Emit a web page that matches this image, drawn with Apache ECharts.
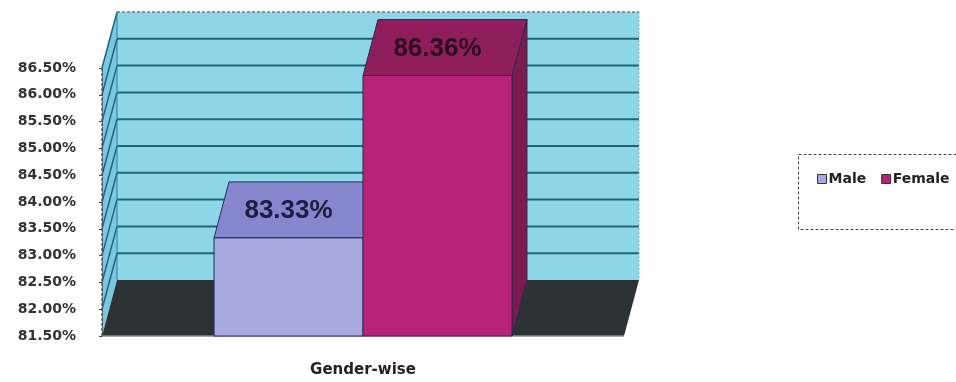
<!DOCTYPE html>
<html>
<head>
<meta charset="utf-8">
<script src="https://cdn.jsdelivr.net/npm/echarts@6/dist/echarts.min.js"></script>
<style>html,body{margin:0;padding:0;background:#fff}#c{width:956px;height:382px}</style>
</head>
<body>
<div id="c"></div>
<script>
// ---- data ----
const categories = ['Gender-wise'];
const seriesNames = ['Male', 'Female'];
const maleValues = [83.33];
const femaleValues = [86.36];
const yTicks = [81.5, 82.0, 82.5, 83.0, 83.5, 84.0, 84.5, 85.0, 85.5, 86.0, 86.5];

// ---- styles ----
const DX = 15, DY = -56;          // 3D depth offset (pixels)
const BAR_RATIO = 0.2854;         // bar width / band width
const WALL = '#8dd6e8', LEFTWALL = '#79c8df', GRID = '#23627a', FLOOR = '#2d3335';
const EDGE = '#2a2a50';
const barStyles = [
  { front: '#a9a9e1', top: '#8686cf', side: '#7474b8', text: '#1e1c40' },
  { front: '#b8237a', top: '#8e1f5c', side: '#7d1a50', text: '#2a0c1e' }
];
const yMin = yTicks[0], yMax = yTicks[yTicks.length - 1], yStep = 0.5;

const chart = echarts.init(document.getElementById('c'), null, { renderer: 'canvas' });

function renderFrame(params, api) {
  const cs = params.coordSys;
  const x0 = cs.x, x1 = cs.x + cs.width;
  const yB = api.coord([0, yMin])[1], yT = api.coord([0, yMax])[1];
  const ch = [];
  ch.push({ type: 'polygon', shape: { points: [[x0 + DX, yT + DY], [x1 + DX, yT + DY], [x1 + DX, yB + DY], [x0 + DX, yB + DY]] }, style: { fill: WALL } });
  ch.push({ type: 'polygon', shape: { points: [[x0, yB], [x0 + DX, yB + DY], [x0 + DX, yT + DY], [x0, yT]] }, style: { fill: LEFTWALL } });
  yTicks.forEach(function (v) {
    const y = api.coord([0, v])[1];
    if (v === yMin) return;
    if (v === yMax) {
      ch.push({ type: 'line', shape: { x1: x0 + DX, y1: y + DY, x2: x1 + DX, y2: y + DY }, style: { stroke: '#777', lineWidth: 1.5, lineDash: [3, 2] } });
      ch.push({ type: 'line', shape: { x1: x0, y1: y, x2: x0 + DX, y2: y + DY }, style: { stroke: GRID, lineWidth: 1.5 } });
      return;
    }
    ch.push({ type: 'line', shape: { x1: x0 + DX, y1: y + DY, x2: x1 + DX, y2: y + DY }, style: { stroke: GRID, lineWidth: 2 } });
    ch.push({ type: 'line', shape: { x1: x0, y1: y, x2: x0 + DX, y2: y + DY }, style: { stroke: GRID, lineWidth: 1.5 } });
  });
  ch.push({ type: 'line', shape: { x1: x0 + DX, y1: yT + DY, x2: x0 + DX, y2: yB + DY }, style: { stroke: '#2f7f98', lineWidth: 1 } });
  ch.push({ type: 'line', shape: { x1: x1 + DX, y1: yT + DY, x2: x1 + DX, y2: yB + DY }, style: { stroke: '#9aa', lineWidth: 1, lineDash: [2, 2] } });
  ch.push({ type: 'line', shape: { x1: x0, y1: yT, x2: x0, y2: yB }, style: { stroke: '#3a6f80', lineWidth: 1.5, lineDash: [3, 2] } });
  ch.push({ type: 'polygon', shape: { points: [[x0, yB], [x1, yB], [x1 + DX, yB + DY], [x0 + DX, yB + DY]] }, style: { fill: FLOOR } });
  ch.push({ type: 'line', shape: { x1: x0, y1: yB, x2: x1, y2: yB }, style: { stroke: '#8a8a9a', lineWidth: 1.5 } });
  return { type: 'group', children: ch };
}

function makeBarRender(idx) {
  const st = barStyles[idx];
  return function (params, api) {
    const cat = api.value(0), val = api.value(1);
    const base = api.coord([cat, yMin]);
    const tp = api.coord([cat, val]);
    const band = api.size([1, 0])[0];
    const bw = band * BAR_RATIO;
    const xl = base[0] + (idx === 0 ? -bw : 0);
    const xr = xl + bw;
    const yb = base[1], yt = tp[1];
    const ch = [];
    ch.push({ type: 'polygon', shape: { points: [[xr, yt], [xr + DX, yt + DY], [xr + DX, yb + DY], [xr, yb]] }, style: { fill: st.side, stroke: EDGE, lineWidth: 1 } });
    ch.push({ type: 'polygon', shape: { points: [[xl, yt], [xr, yt], [xr + DX, yt + DY], [xl + DX, yt + DY]] }, style: { fill: st.top, stroke: EDGE, lineWidth: 1 } });
    ch.push({ type: 'rect', shape: { x: xl, y: yt, width: bw, height: yb - yt }, style: { fill: st.front, stroke: EDGE, lineWidth: 1 } });
    ch.push({ type: 'text', x: (xl + xr) / 2, y: yt + DY / 2 + 1, style: { text: val.toFixed(2) + '%', fill: st.text, font: 'bold 26px "Liberation Sans", Arial, sans-serif', align: 'center', verticalAlign: 'middle' } });
    return { type: 'group', children: ch };
  };
}

chart.setOption({
  backgroundColor: '#fff',
  animation: false,
  grid: { left: 102, right: 332, top: 68, bottom: 46, containLabel: false },
  xAxis: {
    type: 'category', data: categories,
    axisLine: { show: false }, axisTick: { show: false },
    axisLabel: { margin: 27, color: '#222', fontFamily: 'DejaVu Sans', fontWeight: 'bold', fontSize: 15 }
  },
  yAxis: {
    type: 'value', min: yMin, max: yMax, interval: yStep, z: 5,
    splitLine: { show: false },
    axisLine: { show: true, lineStyle: { color: '#555', type: 'dotted', width: 1 } },
    axisTick: { show: true, length: 3, lineStyle: { color: '#444' } },
    axisLabel: { margin: 26, color: '#333', fontFamily: 'DejaVu Sans', fontWeight: 'bold', fontSize: 14, formatter: function (v) { return v.toFixed(2) + '%'; } }
  },
  legend: {
    data: seriesNames, left: 817, top: 172, icon: 'rect', itemWidth: 9, itemHeight: 9, itemGap: 15, padding: 0,
    itemStyle: { borderColor: '#333', borderWidth: 1 },
    textStyle: { fontFamily: 'DejaVu Sans', fontWeight: 'bold', fontSize: 14, color: '#222', padding: [0, 0, 0, -3] }
  },
  graphic: [{ type: 'rect', left: 796, top: 152, shape: { width: 200, height: 75 }, style: { fill: 'none', stroke: '#444', lineWidth: 1, lineDash: [3, 2] }, z: 0 }],
  series: [
    { type: 'custom', name: '_frame', renderItem: renderFrame, data: [[0]], z: 1, silent: true },
    { type: 'custom', name: seriesNames[0], renderItem: makeBarRender(0), data: maleValues.map(function (v, i) { return [i, v]; }), itemStyle: { color: barStyles[0].front }, encode: { x: 0, y: 1 }, z: 2 },
    { type: 'custom', name: seriesNames[1], renderItem: makeBarRender(1), data: femaleValues.map(function (v, i) { return [i, v]; }), itemStyle: { color: barStyles[1].front }, encode: { x: 0, y: 1 }, z: 3 }
  ]
});
</script>
</body>
</html>
